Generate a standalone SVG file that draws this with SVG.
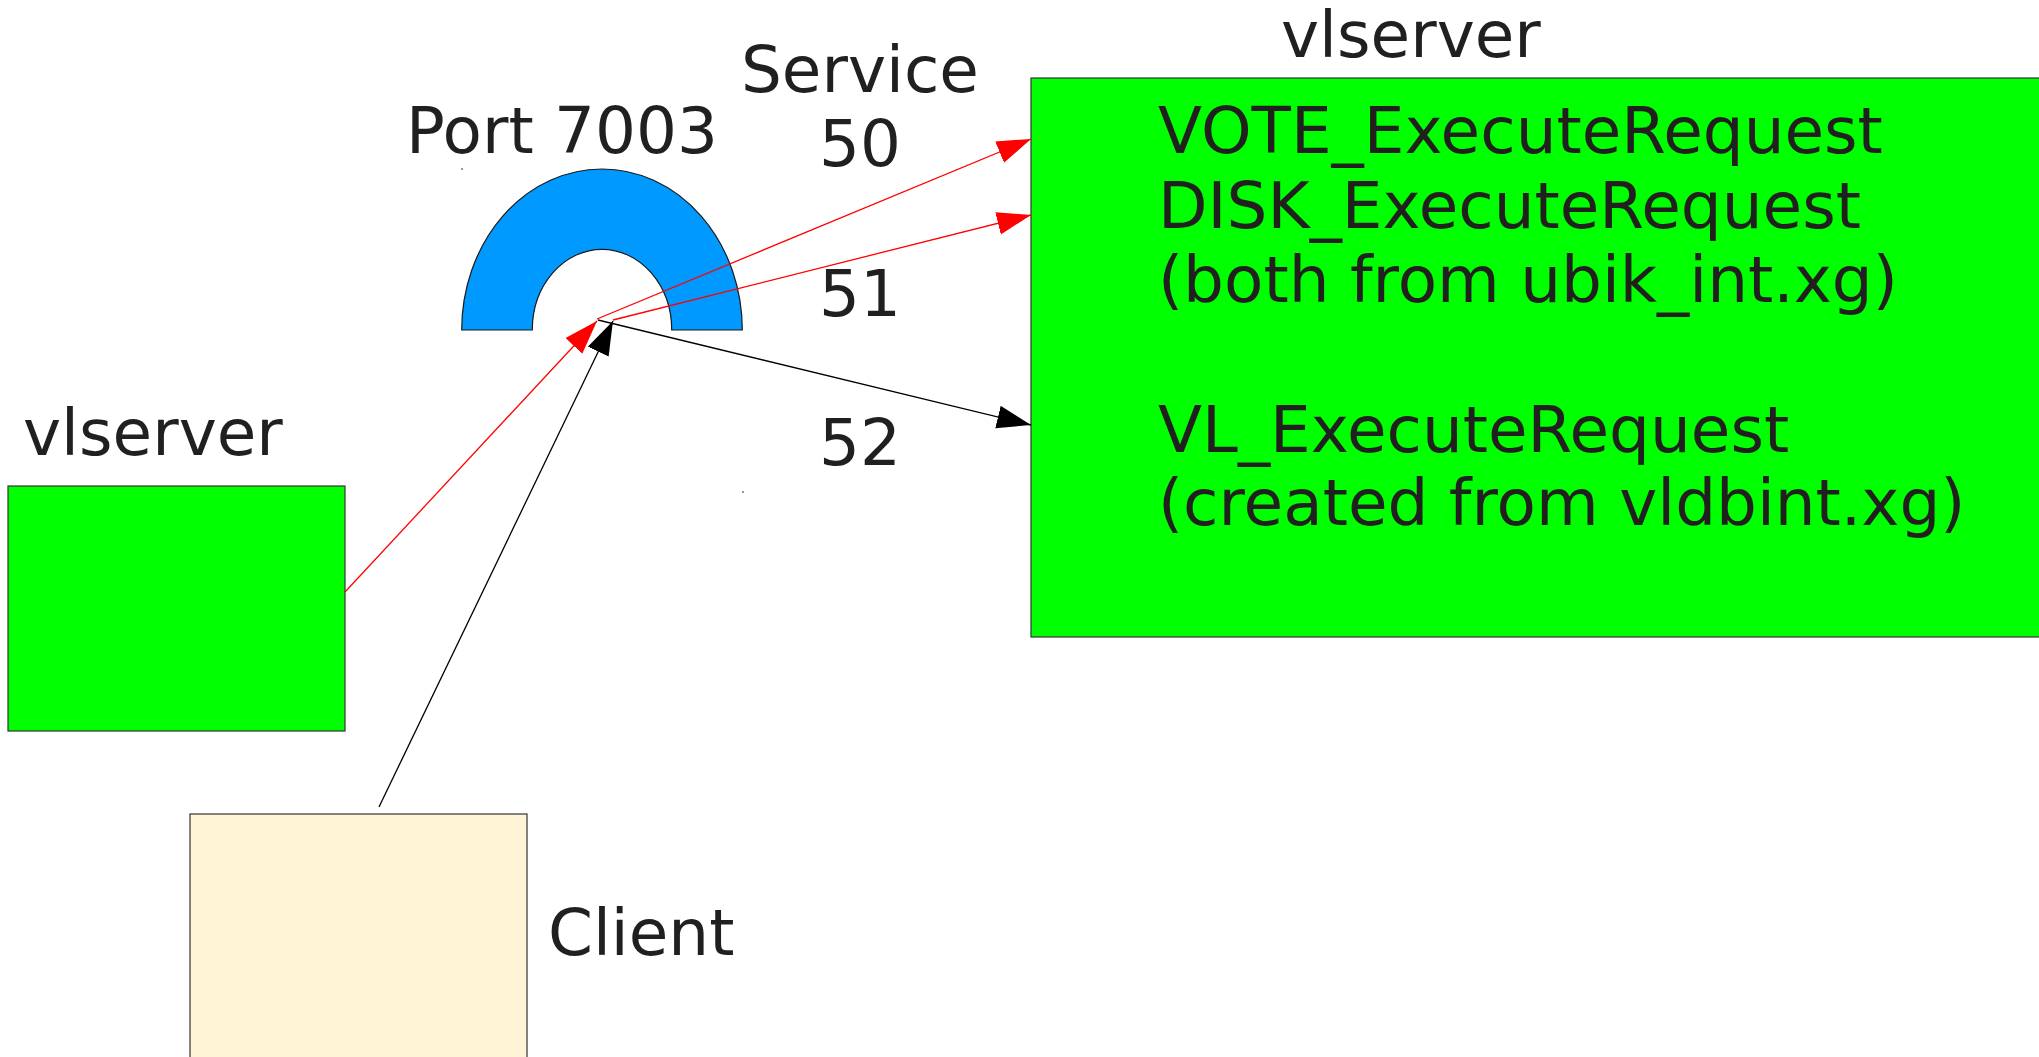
<svg xmlns="http://www.w3.org/2000/svg" width="2039" height="1057" viewBox="0 0 2039 1057">
  <style>
    .lbl { font-family: "DejaVu Sans", "Liberation Sans", sans-serif; font-size: 64.4px; fill: #221f1f; }
    .server { fill: #00ff00; stroke: #333333; stroke-width: 1.2; }
    .client { fill: #fff5d6; stroke: #333333; stroke-width: 1.2; }
    .port { fill: #0099ff; stroke: #1a1a1a; stroke-width: 1.2; }
    .red { stroke: #ff0000; stroke-width: 1.3; fill: none; }
    .blk { stroke: #000000; stroke-width: 1.3; fill: none; }
    .speck { fill: #9a9a9a; }
  </style>
  <defs>
    <marker id="arrowRed" markerUnits="userSpaceOnUse" markerWidth="36" markerHeight="24" refX="34" refY="11.5" orient="auto">
      <path d="M0,0 L34,11.5 L0,23 z" fill="#ff0000"/>
    </marker>
    <marker id="arrowBlack" markerUnits="userSpaceOnUse" markerWidth="36" markerHeight="24" refX="34" refY="11.5" orient="auto">
      <path d="M0,0 L34,11.5 L0,23 z" fill="#000000"/>
    </marker>
  </defs>

  <rect width="2039" height="1057" fill="#ffffff"/>

  <!-- main vlserver with its request handlers -->
  <g id="vlserver-main">
    <rect class="server" x="1031" y="78" width="1020" height="559"/>
    <text class="lbl" x="1281" y="57">vlserver</text>
    <text class="lbl" x="1158" y="153">VOTE_ExecuteRequest</text>
    <text class="lbl" x="1158" y="228">DISK_ExecuteRequest</text>
    <text class="lbl" x="1158" y="302">(both from ubik_int.xg)</text>
    <text class="lbl" x="1158" y="452">VL_ExecuteRequest</text>
    <text class="lbl" x="1158" y="525">(created from vldbint.xg)</text>
  </g>

  <!-- peer vlserver -->
  <g id="vlserver-peer">
    <rect class="server" x="8" y="486" width="337" height="245"/>
    <text class="lbl" x="23" y="455">vlserver</text>
  </g>

  <!-- client -->
  <g id="client">
    <rect class="client" x="190" y="814" width="337" height="260"/>
    <text class="lbl" x="548" y="955">Client</text>
  </g>

  <!-- port 7003 half ring -->
  <g id="port-7003">
    <path class="port" d="M461.7,330 A140.3,161 0 0 1 742.3,330 L671.7,330 A69.7,80.7 0 0 0 532.3,330 Z"/>
    <text class="lbl" x="406" y="153">Port 7003</text>
  </g>

  <!-- service ids -->
  <g id="service-ids">
    <text class="lbl" x="741" y="92">Service</text>
    <text class="lbl" x="819" y="166">50</text>
    <text class="lbl" x="819" y="316">51</text>
    <text class="lbl" x="819" y="465">52</text>
  </g>

  <!-- connectors -->
  <g id="connectors">
    <line class="red" x1="345" y1="592" x2="597" y2="321" marker-end="url(#arrowRed)"/>
    <line class="blk" x1="379" y1="807" x2="613" y2="321" marker-end="url(#arrowBlack)"/>
    <line class="red" x1="597" y1="319" x2="1031" y2="139" marker-end="url(#arrowRed)"/>
    <line class="red" x1="613" y1="320" x2="1031" y2="215" marker-end="url(#arrowRed)"/>
    <line class="blk" x1="598" y1="320" x2="1031" y2="425" marker-end="url(#arrowBlack)"/>
  </g>

  <!-- stray specks -->
  <rect class="speck" x="461" y="168" width="2" height="2"/>
  <rect class="speck" x="742" y="491" width="2" height="2"/>
</svg>
